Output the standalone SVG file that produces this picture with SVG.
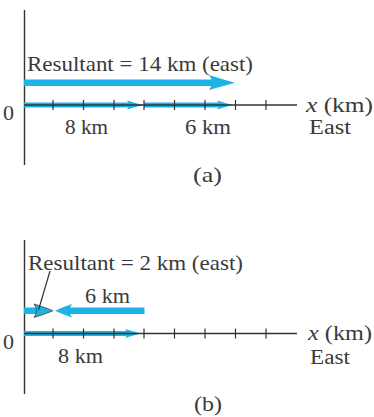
<svg xmlns="http://www.w3.org/2000/svg" width="374" height="417" viewBox="0 0 374 417">
<style>
text{font-family:"Liberation Serif","Times New Roman",serif;font-size:22px;fill:#3a3a3a}
.sm{font-size:20px}
.ax{stroke:#333;stroke-width:1.4;fill:none}
.tk{stroke:#333;stroke-width:1.2}
.bl{fill:#1cb3e6}
.it{font-style:italic}
</style>
<rect width="374" height="417" fill="#fff"/>
<g id="part-a">
  <line class="ax" x1="24.5" y1="10" x2="24.5" y2="165"/>
  <g id="a-resultant">
    <rect class="bl" x="24" y="79.5" width="190" height="6.5"/>
    <path class="bl" d="M235 82.7 Q221 79 209 75 Q215 82.7 209 90 Q221 86.5 235 82.7Z"/>
    <text x="27" y="71" textLength="226" lengthAdjust="spacingAndGlyphs">Resultant  = 14 km (east)</text>
  </g>
  <g id="a-8km">
    <rect class="bl" x="24" y="102.5" width="106" height="5"/>
    <path class="bl" d="M143 105 Q135 103 127 100.5 Q131 105 127 109.5 Q135 107 143 105Z"/>
    <text x="65" y="134" textLength="43" lengthAdjust="spacingAndGlyphs">8 km</text>
  </g>
  <g id="a-6km">
    <rect class="bl" x="144" y="102.5" width="76" height="5"/>
    <path class="bl" d="M233 105 Q225 103 217 100.5 Q221 105 217 109.5 Q225 107 233 105Z"/>
    <text x="185" y="134" textLength="46" lengthAdjust="spacingAndGlyphs">6 km</text>
  </g>
  <line class="ax" x1="24" y1="105" x2="297" y2="105"/>
  <g class="tk">
    <line x1="53" y1="100" x2="53" y2="110"/><line x1="83.5" y1="100" x2="83.5" y2="110"/>
    <line x1="114" y1="100" x2="114" y2="110"/><line x1="144" y1="100" x2="144" y2="110"/>
    <line x1="174.5" y1="100" x2="174.5" y2="110"/><line x1="205" y1="100" x2="205" y2="110"/>
    <line x1="235.5" y1="100" x2="235.5" y2="110"/><line x1="266" y1="100" x2="266" y2="110"/>
  </g>
  <text x="3" y="120">0</text>
  <text class="sm" x="306" y="112" textLength="67" lengthAdjust="spacingAndGlyphs"><tspan class="it">x</tspan> (km)</text>
  <text class="sm" x="309" y="134" textLength="42" lengthAdjust="spacingAndGlyphs">East</text>
  <text x="193" y="182" textLength="29" lengthAdjust="spacingAndGlyphs">(a)</text>
</g>
<g id="part-b">
  <line class="ax" x1="24.5" y1="240" x2="24.5" y2="394"/>
  <g id="b-8km">
    <rect class="bl" x="24" y="331" width="104" height="5"/>
    <path class="bl" d="M141 333.5 Q133 331.5 125 329 Q129 333.5 125 338 Q133 335.5 141 333.5Z"/>
    <text x="58" y="363" textLength="45" lengthAdjust="spacingAndGlyphs">8 km</text>
  </g>
  <g id="b-6km">
    <rect class="bl" x="66" y="307.5" width="78.5" height="6.5"/>
    <path class="bl" d="M55 310.7 Q63 307 72 304 Q67 310.7 72 317.5 Q63 314.5 55 310.7Z"/>
    <text x="85" y="303" textLength="45" lengthAdjust="spacingAndGlyphs">6 km</text>
  </g>
  <g id="b-resultant">
    <rect class="bl" x="24" y="307.5" width="14" height="6.5"/>
    <path class="bl" d="M53 310.7 Q44 307 34 304 Q39 310.7 34 317.5 Q44 314.5 53 310.7Z" stroke="#444" stroke-width="0.8"/>
    <text x="28" y="270" textLength="215" lengthAdjust="spacingAndGlyphs">Resultant  = 2 km (east)</text>
  </g>
  <line class="ax" x1="24" y1="333.5" x2="297" y2="333.5"/>
  <g class="tk">
    <line x1="53" y1="328.5" x2="53" y2="338.5"/><line x1="83.5" y1="328.5" x2="83.5" y2="338.5"/>
    <line x1="114" y1="328.5" x2="114" y2="338.5"/><line x1="144" y1="328.5" x2="144" y2="338.5"/>
    <line x1="174.5" y1="328.5" x2="174.5" y2="338.5"/><line x1="205" y1="328.5" x2="205" y2="338.5"/>
    <line x1="235.5" y1="328.5" x2="235.5" y2="338.5"/><line x1="266" y1="328.5" x2="266" y2="338.5"/>
  </g>
  <text x="3" y="349">0</text>
  <text class="sm" x="308" y="340" textLength="64" lengthAdjust="spacingAndGlyphs"><tspan class="it">x</tspan> (km)</text>
  <text class="sm" x="310" y="364" textLength="40" lengthAdjust="spacingAndGlyphs">East</text>
  <text x="194" y="411" textLength="28" lengthAdjust="spacingAndGlyphs">(b)</text>
</g>
<g id="connectors">
  <line x1="50" y1="271" x2="38.5" y2="310" stroke="#333" stroke-width="1.2"/>
</g>
</svg>
